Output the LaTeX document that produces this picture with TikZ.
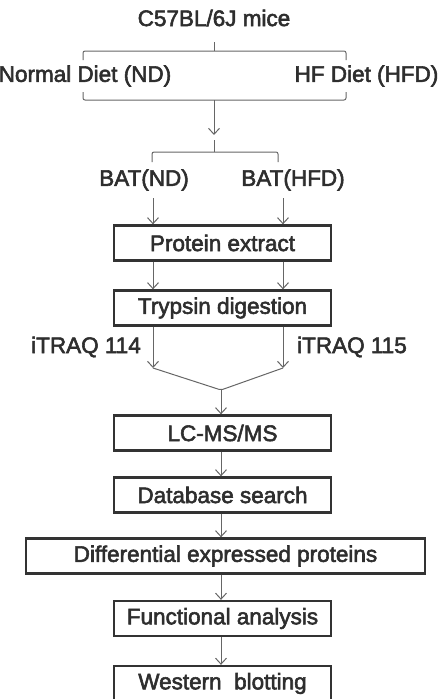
\documentclass[tikz,border=0pt]{standalone}
\usepackage{fontspec}
\setmainfont{Liberation Sans}[FakeBold=2.5]
\usetikzlibrary{arrows.meta,positioning}

\begin{document}
\begin{tikzpicture}[x=1pt,y=-1pt,
    stepbox/.style={rectangle,draw=black!80,line width=2.3pt,minimum width=217pt,minimum height=35pt,inner sep=0pt,font=\fontsize{22.5}{26}\selectfont,text=black!82},
    plain/.style={inner sep=0pt,font=\fontsize{22.5}{26}\selectfont,text=black!82},
    link/.style={draw=black!60,line width=1pt,rounded corners=2pt},
    arr/.style={draw=black!60,line width=1pt,-{Straight Barb[length=6pt,width=11pt]}}]
    % Workflow of the iTRAQ experiment
\useasboundingbox (0,0) rectangle (444,699);
\node[plain] (mice) at (214,18) {C57BL/6J mice};
\node[plain] (nd) at (85,76) {Normal Diet (ND)};
\node[plain] (hfd) at (366.5,76) {HF Diet (HFD)};
\node[plain] (batnd) at (144,180) {BAT(ND)};
\node[plain] (bathfd) at (293,180) {BAT(HFD)};
\node[stepbox] (protein) at (222.5,243) {Protein extract};
\node[stepbox] (trypsin) at (222.5,308) {Trypsin digestion};
\node[plain] (itraqa) at (86,347) {iTRAQ 114};
\node[plain] (itraqb) at (352,347) {iTRAQ 115};
\node[stepbox] (lcms) at (222.5,433) {LC-MS/MS};
\node[stepbox] (dbsearch) at (222.5,495) {Database search};
\node[stepbox,minimum width=399pt] (diffprot) at (225.5,556) {Differential expressed proteins};
\node[stepbox] (funcan) at (222.5,618.5) {Functional analysis};
\node[stepbox] (western) at (222.5,683.5) {Western\ \ blotting};

% braces
\coordinate (mtop) at (214,42);
\coordinate (mmid) at (214,51);
\draw[link] (83,60) -- (83,51) -- (346,51) -- (346,60);
\draw[link] (mtop) -- (mmid);
\coordinate (dmid) at (214,100);
\coordinate (dtip) at (214,135);
\draw[link] (83,92) -- (83,100) -- (346,100) -- (346,92);
\draw[arr] (dmid) -- (dtip);
\coordinate (btop) at (214,140);
\coordinate (bmid) at (214,152);
\draw[link] (152,162) -- (152,152) -- (278,152) -- (278,162);
\draw[link] (btop) -- (bmid);

% arrows
\coordinate (lx) at (153,0);
\coordinate (rx) at (283,0);
\draw[arr] (lx |- 0,198) -- (protein.north -| lx);
\draw[arr] (rx |- 0,198) -- (protein.north -| rx);
\draw[arr] (protein.south -| lx) -- (trypsin.north -| lx);
\draw[arr] (protein.south -| rx) -- (trypsin.north -| rx);
\coordinate (tl) at (153,368);
\coordinate (tr) at (283,368);
\coordinate (merge) at (221,390);
\draw[arr] (trypsin.south -| tl) -- (tl);
\draw[arr] (trypsin.south -| tr) -- (tr);
\draw[link] (tl) -- (merge) -- (tr);
\draw[arr] (merge) -- (lcms.north -| merge);
\draw[arr] (lcms.south -| merge) -- (dbsearch.north -| merge);
\draw[arr] (dbsearch.south -| merge) -- (diffprot.north -| merge);
\draw[arr] (diffprot.south -| merge) -- (funcan.north -| merge);
\draw[arr] (funcan.south -| merge) -- (western.north -| merge);
\end{tikzpicture}
\end{document}
